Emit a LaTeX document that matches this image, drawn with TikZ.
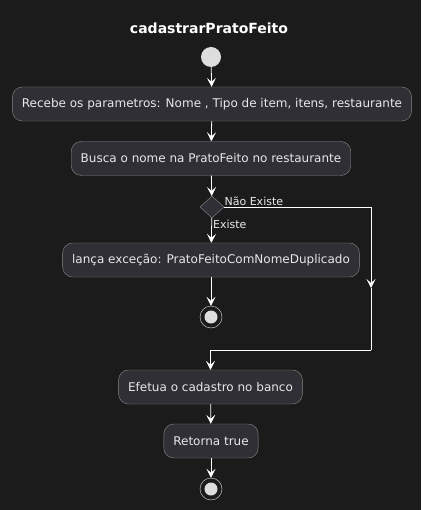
\documentclass[tikz,border=0pt]{standalone}
\usepackage{fontspec}
\setmainfont{DejaVu Sans}
\usetikzlibrary{arrows.meta,positioning,calc,shapes.geometric}

\definecolor{bgdark}{HTML}{1B1B1B}
\definecolor{boxfill}{HTML}{2F2F35}
\definecolor{boxline}{HTML}{8A8A8A}
\definecolor{txtlight}{HTML}{E8E8E8}
\definecolor{dotfill}{HTML}{DDDDDD}

\begin{document}
\begin{tikzpicture}[x=1pt, y=-1pt,
    act/.style={rectangle, draw=boxline, fill=boxfill, rounded corners=10pt,
                minimum height=34pt, inner xsep=9.5pt, text=txtlight,
                font=\fontsize{12}{14}\selectfont},
    dec/.style={diamond, draw=boxline, fill=boxfill, minimum width=24pt,
                minimum height=22pt, inner sep=0pt},
    startdot/.style={circle, fill=dotfill, minimum size=20pt, inner sep=0pt},
    stopdot/.style={circle, draw=dotfill, fill=bgdark, minimum size=22pt,
                inner sep=0pt, path picture={\fill[dotfill]
                (path picture bounding box.center) circle (6.5pt);}},
    lbl/.style={text=txtlight, font=\fontsize{11}{13}\selectfont, inner sep=1pt},
    arr/.style={-{Stealth[length=9pt, width=9pt, inset=4pt]}, draw=white, thick},
]
\fill[bgdark] (0,0) rectangle (421,510);
\useasboundingbox (0,0) rectangle (421,510);

% --- Title ---
\node[text=white, font=\bfseries\fontsize{14}{16}\selectfont] (title) at (209,28) {cadastrarPratoFeito};

% --- Main flow ---
\node[startdot] (start) at (211,57) {};
\node[act] (recebe) at (212,104) {Recebe os parametros: Nome , Tipo de item, itens, restaurante};
\node[act] (busca) at (211,158.5) {Busca o nome na PratoFeito no restaurante};
\node[dec] (existe) at (212,207) {};
\node[act] (lanca) at (211,260) {lança exceção: PratoFeitoComNomeDuplicado};
\node[stopdot] (fim1) at (211,317) {};
\node[act] (efetua) at (210.5,387) {Efetua o cadastro no banco};
\node[act] (retorna) at (211,441) {Retorna true};
\node[stopdot] (fim2) at (211,489) {};

\coordinate (desvio) at (371,288);
\coordinate (junta) at (371,350);

\draw[arr] (start) -- (recebe);
\draw[arr] (recebe) -- (busca);
\draw[arr] (busca) -- (existe);
\draw[arr] (existe) -- (lanca)
  node[lbl, pos=0.25, right] {Existe};
\draw[arr] (lanca) -- (fim1);
\draw[arr] (existe.east) -| (desvio)
  node[lbl, pos=0, above right, xshift=-1pt] {Não Existe};
\draw[white, thick] (desvio) -- (junta);
\draw[arr] (junta) -| (efetua.north);
\draw[arr] (efetua) -- (retorna);
\draw[arr] (retorna) -- (fim2);

\end{tikzpicture}
\end{document}
